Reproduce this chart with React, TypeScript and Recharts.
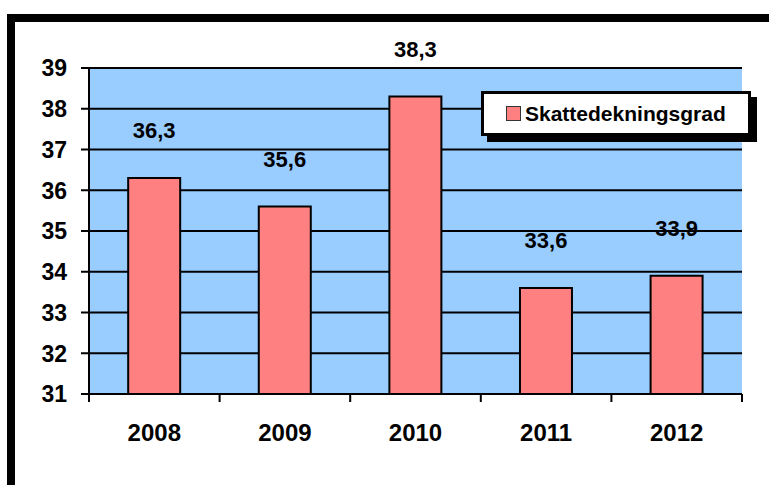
import React from "react";
import {
  BarChart,
  Bar,
  XAxis,
  YAxis,
  CartesianGrid,
  Legend,
} from "recharts";

const years = ["2008", "2009", "2010", "2011", "2012"];
const values = [36.3, 35.6, 38.3, 33.6, 33.9];
const yTicks = [31, 32, 33, 34, 35, 36, 37, 38, 39];
const seriesName = "Skattedekningsgrad";

const data = years.map((y, i) => ({ year: y, value: values[i] }));

const FONT = '"Liberation Sans", Arial, sans-serif';
const TICK_LEN = 8;
const Y_TICK_MARGIN = 14;
const X_TICK_MARGIN = 22;

const renderLabel = (props: any) => {
  const x = Number(props.x);
  const y = Number(props.y);
  const width = Number(props.width);
  return (
    <text
      x={x + width / 2}
      y={y - 40}
      textAnchor="middle"
      fontFamily={FONT}
      fontWeight="bold"
      fontSize={22}
      fill="#000"
    >
      {String(props.value).replace(".", ",")}
    </text>
  );
};

const renderLegend = (props: any) => {
  const { payload } = props;
  return (
    <div style={{ height: 0, overflow: "visible" }}>
      {(payload || []).map((p: any, i: number) => (
        <div
          key={i}
          style={{
            width: 264,
            height: 39,
            background: "#fff",
            border: "3px solid #000",
            boxShadow: "6px 6px 0 #000",
            display: "flex",
            alignItems: "center",
            boxSizing: "content-box",
          }}
        >
          <span
            style={{
              display: "inline-block",
              width: 13,
              height: 13,
              background: "#FF8080",
              border: "1px solid #333",
              marginLeft: 22,
              marginRight: 4,
            }}
          />
          <span
            style={{
              fontFamily: FONT,
              fontWeight: "bold",
              fontSize: 21,
              color: "#000",
            }}
          >
            {p.value}
          </span>
        </div>
      ))}
    </div>
  );
};

const renderYTick = (props: any) => {
  const x = Number(props.x);
  const y = Number(props.y);
  return (
    <g>
      <rect
        x={x + Y_TICK_MARGIN}
        y={y - 1}
        width={TICK_LEN}
        height={2}
        fill="#000"
      />
      <text
        x={x}
        y={y}
        dy="0.36em"
        textAnchor="end"
        fill="#000"
        fontFamily={FONT}
        fontWeight="bold"
        fontSize={23}
      >
        {props.payload.value}
      </text>
    </g>
  );
};

const renderXTick = (props: any) => {
  const x = Number(props.x);
  const y = Number(props.y);
  const half = Number(props.payload && props.payload.offset) || 0;
  const axisY = y - TICK_LEN - X_TICK_MARGIN;
  const isLast =
    props.visibleTicksCount != null
      ? props.index === props.visibleTicksCount - 1
      : props.index === years.length - 1;
  return (
    <g>
      <rect x={x - half - 1} y={axisY} width={2} height={TICK_LEN} fill="#000" />
      {isLast ? (
        <rect x={x + half - 1} y={axisY} width={2} height={TICK_LEN} fill="#000" />
      ) : null}
      <text
        x={x}
        y={y}
        dy="0.71em"
        textAnchor="middle"
        fill="#000"
        fontFamily={FONT}
        fontWeight="bold"
        fontSize={24}
      >
        {props.payload.value}
      </text>
    </g>
  );
};

export default function App() {
  return (
    <div
      style={{
        position: "absolute",
        left: 0,
        top: 0,
        width: 769,
        height: 485,
        background: "#fff",
        overflow: "hidden",
      }}
    >
      <div
        style={{
          position: "absolute",
          left: 7,
          top: 14,
          width: 900,
          height: 700,
          borderTop: "8px solid #000",
          borderLeft: "8px solid #000",
        }}
      />
      <div style={{ position: "absolute", left: 0, top: 0 }}>
        <BarChart
          width={769}
          height={485}
          data={data}
          margin={{ top: 68, right: 27, bottom: 31, left: 9 }}
          barCategoryGap="30%"
        >
          <CartesianGrid
            vertical={false}
            stroke="#000"
            strokeWidth={2}
            fill="#99CCFF"
            fillOpacity={1}
          />
          <XAxis
            xAxisId="top"
            orientation="top"
            dataKey="year"
            height={0}
            tick={false}
            tickLine={false}
            axisLine={{ stroke: "#808080", strokeWidth: 2 }}
          />
          <XAxis
            dataKey="year"
            height={60}
            interval={0}
            tickSize={TICK_LEN}
            tickMargin={X_TICK_MARGIN}
            tickLine={false}
            axisLine={{ stroke: "#000", strokeWidth: 2 }}
            tick={renderXTick}
          />
          <YAxis
            domain={[31, 39]}
            ticks={yTicks}
            interval={0}
            width={80}
            tickSize={TICK_LEN}
            tickMargin={Y_TICK_MARGIN}
            tickLine={false}
            axisLine={{ stroke: "#000", strokeWidth: 2 }}
            tick={renderYTick}
          />
          <YAxis
            yAxisId="right"
            orientation="right"
            domain={[31, 39]}
            width={0}
            tick={false}
            tickLine={false}
            axisLine={{ stroke: "#808080", strokeWidth: 2 }}
          />
          <Legend
            content={renderLegend}
            wrapperStyle={{ position: "absolute", left: 481, top: 91, width: 280, height: 0 }}
          />
          <Bar
            dataKey="value"
            name={seriesName}
            fill="#FF8080"
            stroke="#000"
            strokeWidth={2}
            isAnimationActive={false}
            label={renderLabel}
          />
        </BarChart>
      </div>
    </div>
  );
}
